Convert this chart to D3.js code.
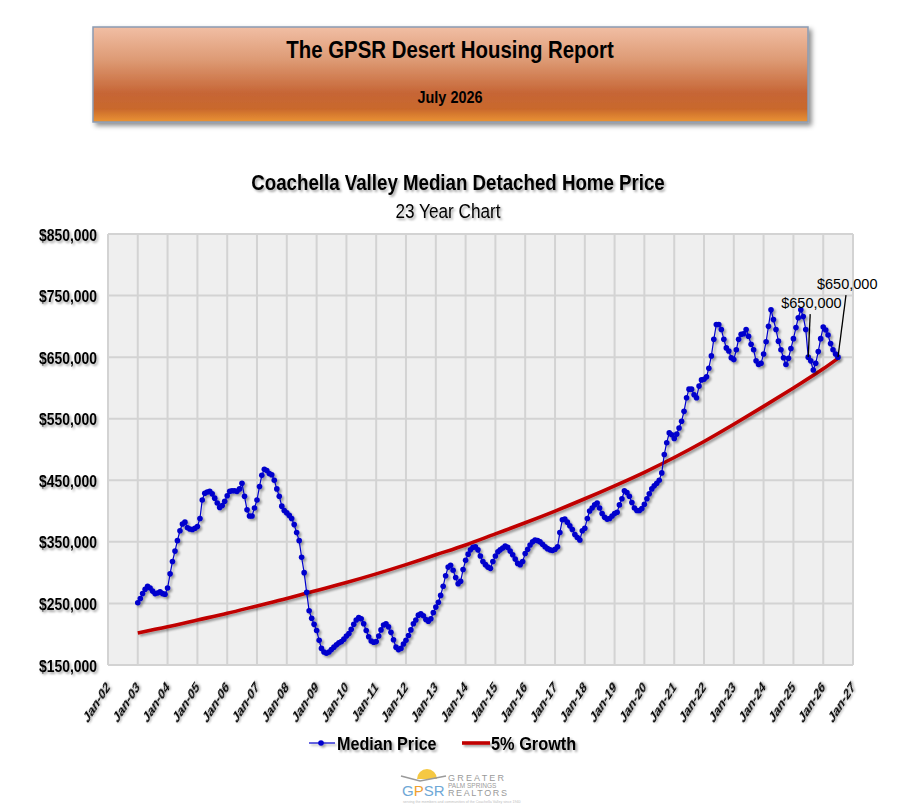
<!DOCTYPE html>
<html>
<head>
<meta charset="utf-8">
<script src="https://cdn.jsdelivr.net/npm/d3@7/dist/d3.min.js"></script>
<style>
  body { margin: 0; background: #fff; }
</style>
</head>
<body>
<div id="chart-area"></div>
<script>
// monthly median price, in $1000s, Jan-03 .. Jul-26
var priceStart = new Date(2003, 0, 1);
var medianPrice = [
  251,258,266,273,278,275,270,266,267,269,266,265,   // 2003
  275,298,318,335,352,368,379,382,373,371,370,372,   // 2004
  375,388,418,429,431,432,428,421,413,406,409,416,   // 2005
  425,432,433,433,432,436,445,424,402,392,392,405,   // 2006
  418,440,458,468,466,461,459,450,436,424,408,401,   // 2007
  397,393,388,378,365,352,325,300,268,238,226,216,   // 2008
  206,190,177,171,169,171,175,179,183,186,188,192,   // 2009
  197,201,208,216,223,227,225,217,206,196,189,187,   // 2010
  188,197,207,215,217,212,203,191,179,175,177,184,   // 2011
  190,198,207,217,223,231,233,230,224,221,225,235,   // 2012
  244,252,263,278,295,309,312,304,292,282,286,305,   // 2013
  320,330,337,341,342,337,327,318,313,309,307,318,   // 2014
  327,334,337,340,343,341,335,329,322,315,313,318,   // 2015
  331,338,345,350,353,352,350,346,342,339,337,336,   // 2016
  338,342,365,386,387,382,376,370,362,357,353,368,   // 2017
  372,388,400,405,410,413,405,396,390,387,388,392,   // 2018
  396,398,410,420,433,430,424,414,405,401,401,404,   // 2019
  411,420,428,436,441,445,450,462,492,511,527,524,   // 2020
  518,525,535,546,562,584,598,598,589,584,603,613,   // 2021
  614,618,632,652,679,703,703,695,679,665,660,649,   // 2022
  646,662,679,687,688,695,684,671,662,644,638,640,   // 2023
  655,675,700,727,711,695,676,662,649,638,648,664,   // 2024
  680,698,714,727,716,695,650,644,629,640,659,680,   // 2025
  699,694,686,672,662,655,650                        // 2026
];

// 5% growth reference line, in $1000s
var growthDates = ["2003-01","2004-01","2005-01","2006-01","2007-01","2008-01","2009-01","2010-01",
                   "2011-01","2012-01","2013-01","2014-01","2015-01","2016-01","2017-01","2018-01",
                   "2019-01","2020-01","2021-01","2022-01","2023-01","2024-01","2025-01","2026-01","2026-07"];
var growthValues = [202,212,223,234,246,258,271,284,298,313,329,345,363,381,400,420,441,463,487,513,541,570,600,631,648];

var yTicks = [150000,250000,350000,450000,550000,650000,750000,850000];
var xTickYears = d3.range(2002, 2028);

var callouts = [
  {date: "2025-07", label: "$650,000", dx: -27, dy: -49, lineDx: 2},
  {date: "2026-07", label: "$650,000", dx: -21, dy: -68, lineDx: 8}
];

var width = 913, height = 809;
var plot = {left: 108, right: 853, top: 234, bottom: 665};
var SANS = "'Liberation Sans', Arial, sans-serif";
var parseMonth = d3.timeParse("%Y-%m");

// squeeze text horizontally around its anchor, like a narrow face
function narrow(sel, sx, tx, ty) {
  sel.attr("x", 0).attr("y", 0)
     .attr("transform", "translate(" + tx + "," + ty + ") scale(" + sx + ",1)");
  return sel;
}

var svg = d3.select("#chart-area").append("svg")
    .attr("width", width).attr("height", height)
    .style("display", "block");

var defs = svg.append("defs");
var shadow = defs.append("filter").attr("id", "shadow")
    .attr("x", "-10%").attr("y", "-10%").attr("width", "130%").attr("height", "140%");
shadow.append("feDropShadow").attr("dx", 2).attr("dy", 2).attr("stdDeviation", 1.2)
    .attr("flood-color", "#000").attr("flood-opacity", 0.35);

var boxShadow = defs.append("filter").attr("id", "boxShadow")
    .attr("x", "-5%").attr("y", "-10%").attr("width", "115%").attr("height", "130%");
boxShadow.append("feDropShadow").attr("dx", 3).attr("dy", 3).attr("stdDeviation", 2.5)
    .attr("flood-color", "#000").attr("flood-opacity", 0.45);

var hdr = defs.append("linearGradient").attr("id", "hdr")
    .attr("x1", 0).attr("y1", 0).attr("x2", 0).attr("y2", 1);
[["0%", "#f1bea4"], ["35%", "#dd9a74"], ["70%", "#c66535"], ["86%", "#c9682c"], ["100%", "#eb9433"]]
  .forEach(function(s) { hdr.append("stop").attr("offset", s[0]).attr("stop-color", s[1]); });

// header box
svg.append("rect")
    .attr("x", 93).attr("y", 27).attr("width", 715).attr("height", 95)
    .attr("fill", "url(#hdr)").attr("stroke", "#8a9bb3").attr("stroke-width", 1.5)
    .attr("filter", "url(#boxShadow)");
narrow(svg.append("text"), 0.85, 450, 58).attr("text-anchor", "middle")
    .style("font-family", SANS).style("font-size", "24px").style("font-weight", "bold")
    .attr("fill", "#000").text("The GPSR Desert Housing Report");
narrow(svg.append("text"), 0.85, 450, 103).attr("text-anchor", "middle")
    .style("font-family", SANS).style("font-size", "17px").style("font-weight", "bold")
    .attr("fill", "#000").text("July 2026");

// chart titles
narrow(svg.append("text"), 0.85, 458, 190).attr("text-anchor", "middle")
    .style("font-family", SANS).style("font-size", "22px").style("font-weight", "bold")
    .attr("filter", "url(#shadow)").text("Coachella Valley Median Detached Home Price");
narrow(svg.append("text"), 0.88, 448, 218).attr("text-anchor", "middle")
    .style("font-family", SANS).style("font-size", "19.5px")
    .attr("filter", "url(#shadow)").text("23 Year Chart");

var x = d3.scaleTime()
    .domain([new Date(2002, 0, 1), new Date(2027, 0, 1)])
    .range([plot.left, plot.right]);
var y = d3.scaleLinear()
    .domain([150000, 850000])
    .range([plot.bottom, plot.top]);

var graph = svg.append("g");

graph.append("rect")
    .attr("x", plot.left).attr("y", plot.top)
    .attr("width", plot.right - plot.left).attr("height", plot.bottom - plot.top)
    .attr("fill", "#efefef");

var grid = graph.append("g").attr("stroke", "#d3d3d3").attr("stroke-width", 2);
grid.selectAll(".vgrid").data(xTickYears).enter().append("line")
    .attr("x1", function(d) { return x(new Date(d, 0, 1)); })
    .attr("x2", function(d) { return x(new Date(d, 0, 1)); })
    .attr("y1", plot.top).attr("y2", plot.bottom);
grid.selectAll(".hgrid").data(yTicks).enter().append("line")
    .attr("x1", plot.left).attr("x2", plot.right)
    .attr("y1", function(d) { return y(d); }).attr("y2", function(d) { return y(d); });

// y axis
var yAxis = d3.axisLeft(y).tickValues(yTicks).tickSize(0)
    .tickFormat(function(d) { return "$" + d3.format(",")(d); });
var yAxisGroup = graph.append("g").attr("transform", "translate(" + plot.left + ",0)").call(yAxis);
yAxisGroup.select(".domain").remove();
yAxisGroup.selectAll(".tick text").each(function() {
  narrow(d3.select(this), 0.82, -11, 0);
});
yAxisGroup.selectAll("text")
    .attr("text-anchor", "end").attr("dy", "0.36em")
    .style("font-family", SANS).style("font-size", "17px").style("font-weight", "bold")
    .attr("fill", "#000").attr("filter", "url(#shadow)");

// x axis, slanted labels
var xAxis = d3.axisBottom(x).tickValues(xTickYears.map(function(d) { return new Date(d, 0, 1); }))
    .tickSize(0).tickFormat(d3.timeFormat("Jan-%y"));
var xAxisGroup = graph.append("g").attr("transform", "translate(0," + plot.bottom + ")").call(xAxis);
xAxisGroup.select(".domain").remove();
xAxisGroup.selectAll(".tick text")
    .attr("x", 0).attr("y", 0).attr("dy", 0)
    .attr("text-anchor", "end")
    .attr("transform", "translate(2,23) scale(0.64,1) rotate(-45)")
    .style("font-family", SANS).style("font-size", "16px").style("font-weight", "bold")
    .attr("fill", "#000").attr("filter", "url(#shadow)");

var priceData = medianPrice.map(function(v, i) {
  return {date: d3.timeMonth.offset(priceStart, i), value: v * 1000};
});
var growthData = growthDates.map(function(d, i) {
  return {date: parseMonth(d), value: growthValues[i] * 1000};
});

// 5% growth line
graph.append("path").datum(growthData)
    .attr("fill", "none").attr("stroke", "#c00000").attr("stroke-width", 3.6)
    .attr("filter", "url(#shadow)")
    .attr("d", d3.line().curve(d3.curveMonotoneX)
      .x(function(d) { return x(d.date); }).y(function(d) { return y(d.value); }));

// median price line + markers
var priceGroup = graph.append("g").attr("filter", "url(#shadow)");
priceGroup.append("path").datum(priceData)
    .attr("fill", "none").attr("stroke", "#0000cc").attr("stroke-width", 1.2)
    .attr("d", d3.line()
      .x(function(d) { return x(d.date); }).y(function(d) { return y(d.value); }));
priceGroup.selectAll("circle").data(priceData).enter().append("circle")
    .attr("cx", function(d) { return x(d.date); })
    .attr("cy", function(d) { return y(d.value); })
    .attr("r", 2.8).attr("fill", "#0000cc");

// callouts
callouts.forEach(function(c) {
  var d = parseMonth(c.date);
  var point = priceData.find(function(p) { return +p.date === +d; });
  var px = x(point.date), py = y(point.value);
  var lx = px + c.dx, ly = py + c.dy;
  graph.append("line")
      .attr("x1", px).attr("y1", py)
      .attr("x2", px + c.lineDx).attr("y2", ly + 6)
      .attr("stroke", "#000").attr("stroke-width", 1.3);
  graph.append("text").attr("x", lx).attr("y", ly)
      .style("font-family", SANS).style("font-size", "14.5px")
      .attr("fill", "#000").text(c.label);
});

// legend
var legend = svg.append("g").attr("filter", "url(#shadow)");
legend.append("line").attr("x1", 309).attr("x2", 335).attr("y1", 743).attr("y2", 743)
    .attr("stroke", "#0000cc").attr("stroke-width", 1.2);
legend.append("circle").attr("cx", 321).attr("cy", 743).attr("r", 2.8).attr("fill", "#0000cc");
narrow(legend.append("text"), 0.85, 337, 750)
    .style("font-family", SANS).style("font-size", "19px").style("font-weight", "bold")
    .text("Median Price");
legend.append("line").attr("x1", 462).attr("x2", 490).attr("y1", 743).attr("y2", 743)
    .attr("stroke", "#c00000").attr("stroke-width", 3.6);
narrow(legend.append("text"), 0.86, 491, 750)
    .style("font-family", SANS).style("font-size", "19px").style("font-weight", "bold")
    .text("5% Growth");

// GPSR logo
var logo = svg.append("g");
logo.append("path").attr("d", "M417,779 A10,10 0 0 1 437,779 Z").attr("fill", "#f5c842");
logo.append("path").attr("d", "M401,776 L420,781 L446,776")
    .attr("fill", "none").attr("stroke", "#9a9a9a").attr("stroke-width", 1.6);
var gpsr = logo.append("text").attr("x", 402).attr("y", 796)
    .style("font-family", SANS).style("font-size", "15px");
gpsr.append("tspan").attr("fill", "#6fa8d6").text("G");
gpsr.append("tspan").attr("fill", "#f0a030").text("P");
gpsr.append("tspan").attr("fill", "#6fa8d6").text("SR");
logo.append("text").attr("x", 448).attr("y", 781).attr("fill", "#9a9a9a")
    .style("font-family", SANS).style("font-size", "9px")
    .style("letter-spacing", "2.2px").text("GREATER");
logo.append("text").attr("x", 448).attr("y", 788).attr("fill", "#9a9a9a")
    .style("font-family", SANS).style("font-size", "6.5px")
    .text("PALM SPRINGS");
logo.append("text").attr("x", 448).attr("y", 796).attr("fill", "#9a9a9a")
    .style("font-family", SANS).style("font-size", "9px")
    .style("letter-spacing", "1.6px").text("REALTORS");
logo.append("text").attr("x", 403).attr("y", 803).attr("fill", "#c0c0c0")
    .style("font-family", SANS).style("font-size", "3.6px")
    .text("serving the members and communities of the Coachella Valley since 1940");
</script>
</body>
</html>
